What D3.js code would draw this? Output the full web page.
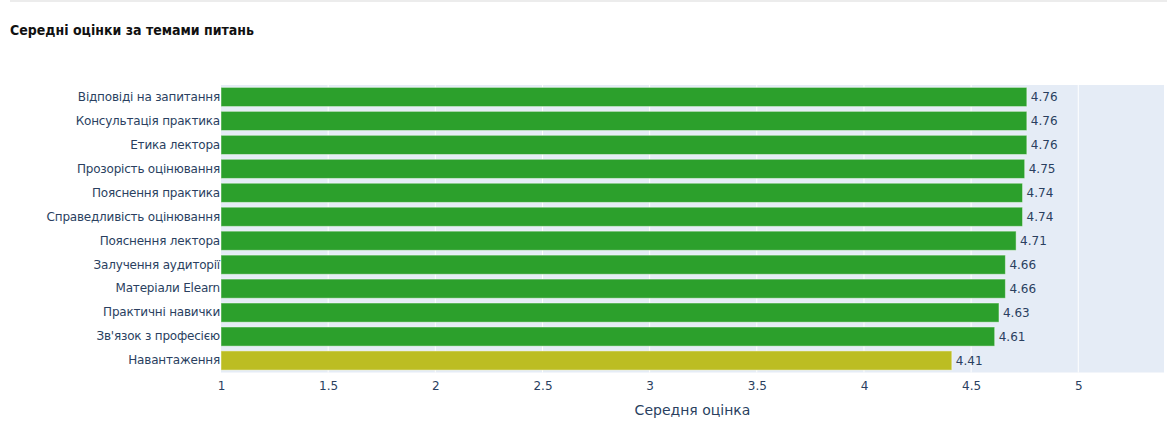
<!DOCTYPE html>
<html>
<head>
<meta charset="utf-8">
<script src="https://cdn.jsdelivr.net/npm/d3@7"></script>
<style>
  body { margin: 0; background: #fff; }
  svg { display: block; }
  text { font-family: "DejaVu Sans", verdana, sans-serif; }
</style>
</head>
<body>
<svg id="chart"></svg>
<script>
// дані
var topics = [
    "Відповіді на запитання",
    "Консультація практика",
    "Етика лектора",
    "Прозорість оцінювання",
    "Пояснення практика",
    "Справедливість оцінювання",
    "Пояснення лектора",
    "Залучення аудиторії",
    "Матеріали Elearn",
    "Практичні навички",
    "Зв'язок з професією",
    "Навантаження"
];
var scores = [4.76, 4.76, 4.76, 4.75, 4.74, 4.74, 4.71, 4.66, 4.66, 4.63, 4.61, 4.41];
var xTicks = [1, 1.5, 2, 2.5, 3, 3.5, 4, 4.5, 5];

var W = 1167, H = 427;
var margin = {top: 85, right: 3, bottom: 54.5, left: 221};
var width = W - margin.left - margin.right,
    height = H - margin.top - margin.bottom;
var FONT = '"DejaVu Sans", verdana, sans-serif';

var svg = d3.select("#chart").attr("width", W).attr("height", H);

// тонка лінія зверху
svg.append("line")
    .attr("x1", 10).attr("x2", W).attr("y1", 1).attr("y2", 1)
    .attr("stroke", "#ececec").attr("stroke-width", 2);

svg.append("text")
    .attr("x", 10).attr("y", 34.5)
    .attr("font-size", 14).attr("font-weight", "bold")
    .attr("fill", "#111")
    .style("font-family", '"DejaVu Sans Condensed", "DejaVu Sans", sans-serif')
    .style("font-stretch", "condensed")
    .text("Середні оцінки за темами питань");

var x = d3.scaleLinear().domain([1, 5.4]).range([0, width]);
var y = d3.scaleBand().domain(topics).range([0, height]).paddingInner(0.2).paddingOuter(0.1);

var g = svg.append("g")
    .attr("transform", "translate(" + margin.left + "," + margin.top + ")");

g.append("rect")
    .attr("width", width).attr("height", height)
    .attr("fill", "#e5ecf6");

// сітка
g.selectAll("line.grid")
    .data(xTicks.slice(1))
    .enter()
    .append("line")
    .attr("class", "grid")
    .attr("x1", function(d) { return x(d); })
    .attr("x2", function(d) { return x(d); })
    .attr("y1", 0).attr("y2", height)
    .attr("stroke", "#fff").attr("stroke-width", 1);

// стовпчики
g.selectAll("rect.bar")
    .data(scores)
    .enter()
    .append("rect")
    .attr("class", "bar")
    .attr("x", x(1))
    .attr("y", function(d, i) { return y(topics[i]); })
    .attr("width", function(d) { return x(d) - x(1); })
    .attr("height", y.bandwidth())
    .attr("fill", function(d) { return d < 4.5 ? "#bcbd22" : "#2ca02c"; })
    .attr("stroke", "rgba(255,255,255,0.45)")
    .attr("stroke-width", 1);

// підписи значень
g.selectAll("text.val")
    .data(scores)
    .enter()
    .append("text")
    .attr("class", "val")
    .attr("x", function(d) { return x(d) + 4; })
    .attr("y", function(d, i) { return y(topics[i]) + y.bandwidth() / 2; })
    .attr("dy", "0.36em")
    .attr("font-size", 12)
    .attr("fill", "#2a3f5f")
    .text(function(d) { return d.toFixed(2); });

// вісь Y
var yAxis = d3.axisLeft(y).tickSize(0).tickPadding(1);
g.append("g").call(yAxis)
    .call(function(s) { s.select(".domain").remove(); })
    .selectAll("text")
    .attr("font-size", 12)
    .attr("fill", "#2a3f5f")
    .style("letter-spacing", "-0.2px")
    .style("font-family", FONT);

// вісь X
var xAxis = d3.axisBottom(x).tickValues(xTicks).tickSize(0).tickPadding(9)
    .tickFormat(function(d) { return String(d); });
g.append("g")
    .attr("transform", "translate(0," + height + ")")
    .call(xAxis)
    .call(function(s) { s.select(".domain").remove(); })
    .selectAll("text")
    .attr("font-size", 12)
    .attr("fill", "#2a3f5f")
    .style("font-family", FONT);

svg.append("text")
    .attr("x", margin.left + width / 2)
    .attr("y", 415)
    .attr("text-anchor", "middle")
    .attr("font-size", 14)
    .attr("fill", "#2a3f5f")
    .text("Середня оцінка");
</script>
</body>
</html>
